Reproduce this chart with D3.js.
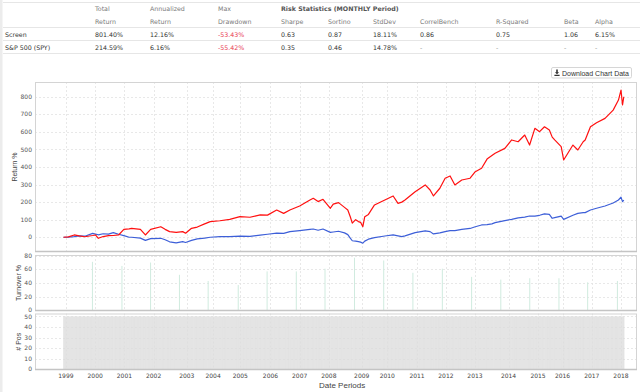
<!DOCTYPE html>
<html>
<head>
<meta charset="utf-8">
<script src="https://cdn.jsdelivr.net/npm/d3@7"></script>
<style>
  body { margin: 0; background: #fff; }
  svg { display: block; }
</style>
</head>
<body>
<div id="chart"></div>
<script>
// ---- stats table ----
var headTop = ["Total", "Annualized", "Max"];
var headBottom = ["Return", "Return", "Drawdown", "Sharpe", "Sortino", "StdDev", "CorrelBench", "R-Squared", "Beta", "Alpha"];
var rowNames = ["Screen", "S&P 500 (SPY)"];
var screenStats = ["801.40%", "12.16%", "-53.43%", "0.63", "0.87", "18.11%", "0.86", "0.75", "1.06", "6.15%"];
var spyStats = ["214.59%", "6.16%", "-55.42%", "0.35", "0.46", "14.78%", "-", "-", "-", "-"];

// ---- cumulative return (%) ----
var dates = ["1998-12-01","1999-02-01","1999-04-15","1999-06-15","1999-08-25","1999-12-01","2000-01-05","2000-02-10",
  "2000-04-10","2000-06-15","2000-08-15","2000-10-20","2000-12-25","2001-03-01","2001-04-01","2001-07-20","2001-09-20",
  "2001-11-25","2002-04-01","2002-05-25","2002-07-20","2002-10-10","2002-12-31","2003-02-05","2003-04-20","2003-07-01",
  "2003-10-01","2003-12-10","2004-04-10","2004-08-10","2004-12-15","2005-04-20","2005-08-25","2005-11-25","2006-03-20",
  "2006-06-15","2006-09-01","2007-01-01","2007-05-10","2007-06-20","2007-08-20","2007-10-20","2008-01-20","2008-02-25",
  "2008-05-01","2008-07-15","2008-08-25","2008-09-25","2008-10-20","2008-12-01","2009-01-05","2009-02-01","2009-03-01",
  "2009-03-25","2009-05-10","2009-07-25","2009-12-01","2010-03-15","2010-05-15","2010-07-01","2010-08-10","2010-12-15",
  "2011-04-20","2011-06-20","2011-08-01","2011-10-20","2011-12-25","2012-02-25","2012-04-25","2012-07-20","2012-11-01",
  "2013-01-05","2013-03-25","2013-06-01","2013-08-01","2013-09-10","2014-01-10","2014-04-05","2014-06-25","2014-09-15",
  "2014-11-15","2015-01-20","2015-03-20","2015-05-20","2015-07-20","2015-08-25","2015-09-25","2015-12-15","2016-01-15",
  "2016-05-10","2016-07-10","2016-09-15","2016-10-10","2016-12-15","2017-03-01","2017-06-15","2017-09-25","2017-11-30",
  "2018-01-01","2018-01-20","2018-02-05"];
var screenReturn = [0,2,13,8,3,10,13,-6,4,9,10,13,45,48,51,45,13,45,60,45,32,28,32,23,51,58,76,89,94,102,117,114,127,126,155,
  136,155,178,212,222,203,216,165,189,197,170,155,117,80,100,89,85,60,117,130,184,212,235,193,200,212,259,298,269,235,279,336,
  349,298,326,336,373,393,445,465,478,506,554,544,582,525,620,601,629,611,570,554,516,440,525,497,544,554,629,652,677,724,781,
  838,753,800];
var spyReturn = [0,1,4,8,6,22,18,14,20,18,26,17,9,0,0,-5,-18,-8,-6,-14,-26,-32,-25,-30,-18,-9,-5,0,3,3,6,5,12,17,24,22,32,38,
  45,47,40,47,28,30,34,25,15,-5,-20,-22,-25,-28,-34,-22,-11,-2,7,13,8,4,8,26,36,32,19,25,32,38,38,45,50,60,70,72,76,83,95,102,
  110,115,121,120,125,133,130,108,112,120,102,125,136,140,140,155,165,178,195,212,228,203,212];

// ---- turnover (%) at each annual rebalance ----
var turnoverDates = ["1999-11-28","2000-12-01","2001-11-24","2002-11-20","2003-11-14","2004-11-24","2005-11-20","2006-11-20",
  "2007-11-14","2008-11-17","2009-11-17","2010-11-17","2011-11-20","2012-11-20","2013-11-20","2014-11-17","2015-11-17",
  "2016-11-10","2017-11-17"];
var turnover = [71,65,70,52,43,37,57,57,61,77,73,55,61,49,45,47,47,41,43];

// ---- number of positions ----
var posStart = "1998-11-27", posEnd = "2018-02-06", posCount = 50;

// ---- x axis ticks ----
var tickDates = ["1999-01-01","2000-01-01","2001-01-01","2002-01-01","2003-02-20","2004-01-15","2004-12-20","2006-01-01",
  "2007-01-01","2008-01-01","2009-02-15","2010-01-01","2011-01-08","2012-01-04","2013-01-01","2014-02-25","2015-03-01",
  "2016-01-01","2017-01-01","2018-01-01"];
var tickLabels = ["1999","2000","2001","2002","2003","2004","2005","2006","2007","2008","2009","2010","2011","2012","2013",
  "2014","2015","2016","2017","2018"];

var parse = d3.timeParse("%Y-%m-%d");
var W = 640, H = 392;
var left = 35, right = 637;

var svg = d3.select("#chart").append("svg")
    .attr("width", W)
    .attr("height", H)
    .style("font-family", "'DejaVu Sans', Verdana, sans-serif");

// left grey strip of the page
svg.append("rect").attr("x", 0).attr("y", 0).attr("width", 2.5).attr("height", H).attr("fill", "#ececec");

// ---- table ----
var colX = [95, 150, 218, 281, 328, 373, 420, 496, 564, 595];
var table = svg.append("g").style("font-size", "6.3px");
[2.5, 27.5, 40.5, 53.5].forEach(function(y) {
  table.append("line").attr("x1", 3).attr("x2", 640).attr("y1", y).attr("y2", y)
      .attr("stroke", "#e6e6e6").attr("stroke-width", 1);
});
table.selectAll(".h1").data(headTop).enter().append("text")
    .attr("x", function(d, i) { return colX[i]; }).attr("y", 11)
    .attr("fill", "#7a7a7a").text(function(d) { return d; });
table.append("text").attr("x", colX[3]).attr("y", 11)
    .attr("fill", "#555").style("font-weight", "bold").text("Risk Statistics (MONTHLY Period)");
table.selectAll(".h2").data(headBottom).enter().append("text")
    .attr("x", function(d, i) { return colX[i]; }).attr("y", 24)
    .attr("fill", "#7a7a7a").text(function(d) { return d; });
[screenStats, spyStats].forEach(function(row, r) {
  var y = 37 + r * 13;
  table.append("text").attr("x", 5).attr("y", y).attr("fill", "#333").text(rowNames[r]);
  row.forEach(function(v, i) {
    table.append("text").attr("x", colX[i]).attr("y", y)
        .attr("fill", v.charAt(0) === "-" && v.length > 1 ? "#e8384f" : (v === "-" ? "#999" : "#333"))
        .text(v);
  });
});

// ---- download button ----
var btn = svg.append("g");
btn.append("rect").attr("x", 551.5).attr("y", 67.5).attr("width", 80).attr("height", 10.5).attr("rx", 1.5)
    .attr("fill", "#fff").attr("stroke", "#cccccc").attr("stroke-width", 0.8);
btn.append("path")
    .attr("d", "M556.2,69.6h1.6v2.6h1.3l-2.1,2.1l-2.1,-2.1h1.3z M554.4,74.8h5.2v1.2h-5.2z")
    .attr("fill", "#333");
btn.append("text").attr("x", 562).attr("y", 75.6)
    .style("font-family", "'Liberation Sans', Arial, sans-serif").style("font-size", "7px")
    .attr("fill", "#333").text("Download Chart Data");

// ---- scales ----
var x = d3.scaleTime().domain([parse("1997-12-10"), parse("2018-07-20")]).range([left, right]);
var panels = [
  {top: 82, bottom: 252, domain: [-84, 884], ticks: d3.range(0, 801, 100), title: "Return %", tx: 14.5},
  {top: 255, bottom: 311, domain: [-1, 81], ticks: d3.range(0, 81, 20), title: "Turnover %", tx: 18.5},
  {top: 313.5, bottom: 370, domain: [-0.6, 52.8], ticks: d3.range(0, 51, 10), title: "# Pos", tx: 19}
];
panels.forEach(function(p) {
  p.y = d3.scaleLinear().domain(p.domain).range([p.bottom, p.top]);
});

// panel grids, y labels, titles
panels.forEach(function(p) {
  var g = svg.append("g");
  g.selectAll(".hg").data(p.ticks).enter().append("line")
      .attr("x1", left).attr("x2", right)
      .attr("y1", function(d) { return Math.round(p.y(d)) + 0.5; })
      .attr("y2", function(d) { return Math.round(p.y(d)) + 0.5; })
      .attr("stroke", "#e2e2e2").attr("stroke-dasharray", "2,2").attr("stroke-width", 0.8);
  g.selectAll(".vg").data(tickDates).enter().append("line")
      .attr("x1", function(d) { return Math.round(x(parse(d))) + 0.5; })
      .attr("x2", function(d) { return Math.round(x(parse(d))) + 0.5; })
      .attr("y1", p.top).attr("y2", p.bottom)
      .attr("stroke", "#e2e2e2").attr("stroke-dasharray", "2,2").attr("stroke-width", 0.8);
  g.selectAll(".yl").data(p.ticks).enter().append("text")
      .attr("x", 32).attr("y", function(d) { return p.y(d); }).attr("dy", "0.35em")
      .attr("text-anchor", "end").style("font-size", "6px").attr("fill", "#555")
      .text(function(d) { return d; });
  g.append("text")
      .attr("transform", "translate(" + p.tx + "," + ((p.top + p.bottom) / 2) + ") rotate(-90)")
      .attr("text-anchor", "middle").attr("dy", "0.35em")
      .style("font-family", "'Liberation Sans', Arial, sans-serif").style("font-size", "7px")
      .attr("fill", "#444").text(p.title);
});

// ---- returns ----
var main = panels[0];
var lineOf = function(vals) {
  return d3.line()
      .x(function(d, i) { return x(parse(dates[i])); })
      .y(function(d) { return main.y(d); })(vals);
};
svg.append("path").attr("d", lineOf(spyReturn))
    .attr("fill", "none").attr("stroke", "#3d5fd8").attr("stroke-width", 1.2).attr("stroke-linejoin", "round");
svg.append("path").attr("d", lineOf(screenReturn))
    .attr("fill", "none").attr("stroke", "#ff1010").attr("stroke-width", 1.2).attr("stroke-linejoin", "round");

// ---- turnover ----
var tp = panels[1];
svg.selectAll(".turn").data(turnover).enter().append("rect")
    .attr("x", function(d, i) { return x(parse(turnoverDates[i])) - 0.5; })
    .attr("width", 1)
    .attr("y", function(d) { return tp.y(d); })
    .attr("height", function(d) { return tp.y(0) - tp.y(d); })
    .attr("fill", "#d0ebdf");

// ---- positions (weekly bars) ----
var pp = panels[2];
var weeks = d3.timeWeek.range(parse(posStart), parse(posEnd));
svg.append("g").selectAll("rect").data(weeks).enter().append("rect")
    .attr("x", function(d) { return x(d); })
    .attr("width", function(d) { return x(d3.timeWeek.offset(d, 1)) - x(d) + 0.05; })
    .attr("y", pp.y(posCount))
    .attr("height", pp.y(0) - pp.y(posCount))
    .attr("fill", "#dcdcdc");

// frames on top
panels.forEach(function(p) {
  svg.append("rect").attr("x", left + 0.5).attr("y", p.top + 0.5)
      .attr("width", right - left - 1).attr("height", p.bottom - p.top - 1)
      .attr("fill", "none").attr("stroke", "#d4d4d4").attr("stroke-width", 1);
  svg.append("line").attr("x1", left).attr("x2", right).attr("y1", p.bottom - 0.5).attr("y2", p.bottom - 0.5)
      .attr("stroke", "#c4c4c4").attr("stroke-width", 1.5);
});

// ---- x axis labels ----
svg.append("g").selectAll("text").data(tickLabels).enter().append("text")
    .attr("x", function(d, i) { return x(parse(tickDates[i])); })
    .attr("y", 377.5).attr("text-anchor", "middle")
    .style("font-size", "6px").attr("fill", "#444")
    .text(function(d) { return d; });
svg.append("text").attr("x", 319).attr("y", 387.5)
    .style("font-family", "'Liberation Sans', Arial, sans-serif").style("font-size", "8px")
    .attr("fill", "#444").text("Date Periods");
</script>
</body>
</html>
